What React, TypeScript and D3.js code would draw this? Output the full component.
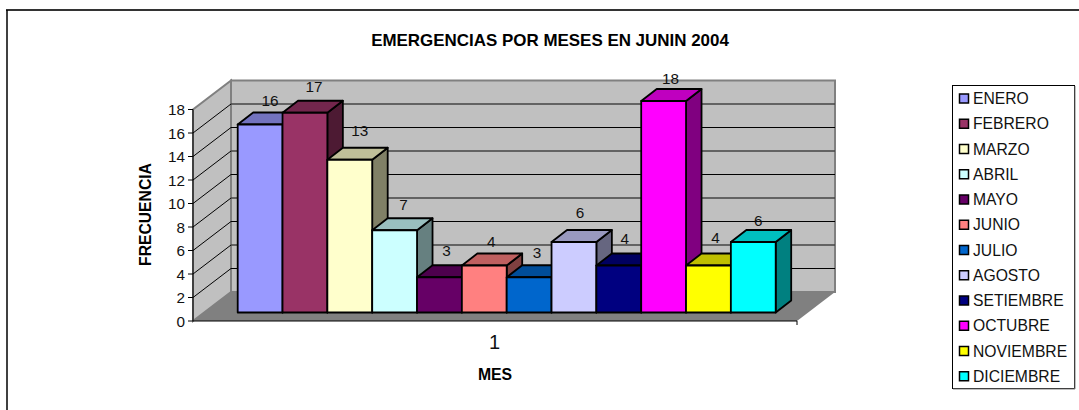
import React from "react";
import * as d3 from "d3";

const months = ["ENERO","FEBRERO","MARZO","ABRIL","MAYO","JUNIO","JULIO","AGOSTO","SETIEMBRE","OCTUBRE","NOVIEMBRE","DICIEMBRE"];
const frequencies = [16,17,13,7,3,4,3,6,4,18,4,6];
const frontColors = ["#9999ff","#993366","#ffffcc","#ccffff","#660066","#ff8080","#0066cc","#ccccff","#000080","#ff00ff","#ffff00","#00ffff"];
const yTicks = [0,2,4,6,8,10,12,14,16,18];
const labelNudgeX = [10,9,10,9,7,7,8,6,6,7,7,5];
const labelNudgeY = [-19,-21,-24,-20,-21,-19,-19,-24,-22,-17,-23,-16];

const W = 1079, H = 410;
const y = d3.scaleLinear().domain([0, 18]).range([321, 109.5]);
const barBase = 312.5;
const unit = y(0) - y(1);
const x = d3.scaleBand().domain(months).range([237.7, 775.7]).padding(0);
const wallD = { dx: 38, dy: -29 };
const barD = { dx: 15.5, dy: -12 };
const plotRight = 797;
const font = "'Liberation Sans', Arial, sans-serif";
const pts = (a: number[][]) => a.map(p => p.join(",")).join(" ");
const shade = (c: string, k: number) => {
  const r = d3.rgb(c);
  return d3.rgb(r.r * k, r.g * k, r.b * k).formatHex();
};

export default function App() {
  const bw = x.bandwidth();
  const backL = 193 + wallD.dx, backR = plotRight + wallD.dx;
  return (
    <svg width={W} height={H} style={{ position: "absolute", left: 0, top: 0, background: "#fff" }} fontFamily={font}>
      <line x1={6} y1={10} x2={W} y2={10} stroke="#333" strokeWidth={2} />
      <line x1={7} y1={10} x2={7} y2={H} stroke="#000" strokeWidth={1.5} />
      <text x={550} y={46} textAnchor="middle" fontSize={13.4 * 358 / 283} fontWeight="bold" fill="#000">EMERGENCIAS POR MESES EN JUNIN 2004</text>

      <polygon points={pts([[193, y(0)],[backL, y(0)+wallD.dy],[backL, y(18)+wallD.dy],[193, y(18)]])} fill="#c0c0c0" stroke="#808080" strokeWidth={2} />
      <polygon points={pts([[backL, y(0)+wallD.dy],[backR, y(0)+wallD.dy],[backR, y(18)+wallD.dy],[backL, y(18)+wallD.dy]])} fill="#c0c0c0" stroke="#808080" strokeWidth={2} />
      <polygon points={pts([[193, y(0)],[plotRight, y(0)],[backR, y(0)+wallD.dy],[backL, y(0)+wallD.dy]])} fill="#808080" />
      {yTicks.filter(t => t > 0 && t < 18).map(t => (
        <g key={t}>
          <line x1={193} y1={y(t)} x2={backL} y2={y(t)+wallD.dy} stroke="#000" strokeWidth={1} />
          <line x1={backL} y1={y(t)+wallD.dy} x2={backR} y2={y(t)+wallD.dy} stroke={t % 4 === 0 ? "#444" : "#000"} strokeWidth={t % 4 === 0 ? 1.6 : 1} />
        </g>
      ))}

      <line x1={193} y1={y(0)} x2={193} y2={y(18)} stroke="#000" strokeWidth={1} />
      <line x1={193} y1={y(0)} x2={plotRight} y2={y(0)} stroke="#000" strokeWidth={1.2} />
      <line x1={plotRight} y1={y(0)} x2={plotRight} y2={y(0)+4} stroke="#000" strokeWidth={1} />
      {yTicks.map(t => (
        <g key={t}>
          <line x1={188} y1={y(t)} x2={193} y2={y(t)} stroke="#000" strokeWidth={1} />
          <text x={185} y={y(t)+5.5} textAnchor="end" fontSize={15.3} fill="#111">{t}</text>
        </g>
      ))}

      {months.map((m, i) => {
        const x0 = x(m)!, x1 = x0 + bw;
        const top = barBase - frequencies[i] * unit;
        const c = frontColors[i];
        return (
          <g key={m} stroke="#000" strokeWidth={1.8} strokeLinejoin="round">
            <polygon points={pts([[x1, barBase],[x1+barD.dx, barBase+barD.dy],[x1+barD.dx, top+barD.dy],[x1, top]])} fill={shade(c, 0.5)} />
            <polygon points={pts([[x0, top],[x1, top],[x1+barD.dx, top+barD.dy],[x0+barD.dx, top+barD.dy]])} fill={shade(c, 0.75)} />
            <rect x={x0} y={top} width={bw} height={barBase-top} fill={c} />
          </g>
        );
      })}
      {months.map((m, i) => (
        <text key={m} x={x(m)! + bw/2 + labelNudgeX[i]} y={barBase - frequencies[i]*unit + labelNudgeY[i]} textAnchor="middle" fontSize={15.3} fill="#111">{frequencies[i]}</text>
      ))}

      <text x={494.5} y={349} textAnchor="middle" fontSize={20} fill="#111">1</text>
      <text x={495} y={380} textAnchor="middle" fontSize={15.8} fontWeight="bold" fill="#000">MES</text>
      <text transform="translate(150.5,214.5) rotate(-90)" textAnchor="middle" fontSize={15.7} fontWeight="bold" fill="#000">FRECUENCIA</text>

      <rect x={952.5} y={85.5} width={122} height={303} fill="#fff" stroke="#000" strokeWidth={1} />
      <polyline points="1075,86 1075,389 953,389" fill="none" stroke="#808080" strokeWidth={1} />
      {months.map((m, i) => {
        const cy = 98.5 + i * 25.25;
        return (
          <g key={m}>
            <rect x={959.5} y={cy-4.5} width={9} height={9} fill={frontColors[i]} stroke="#000" strokeWidth={1.5} />
            <text x={973} y={cy+5.5} fontSize={15.7} fill="#111">{m}</text>
          </g>
        );
      })}
    </svg>
  );
}
